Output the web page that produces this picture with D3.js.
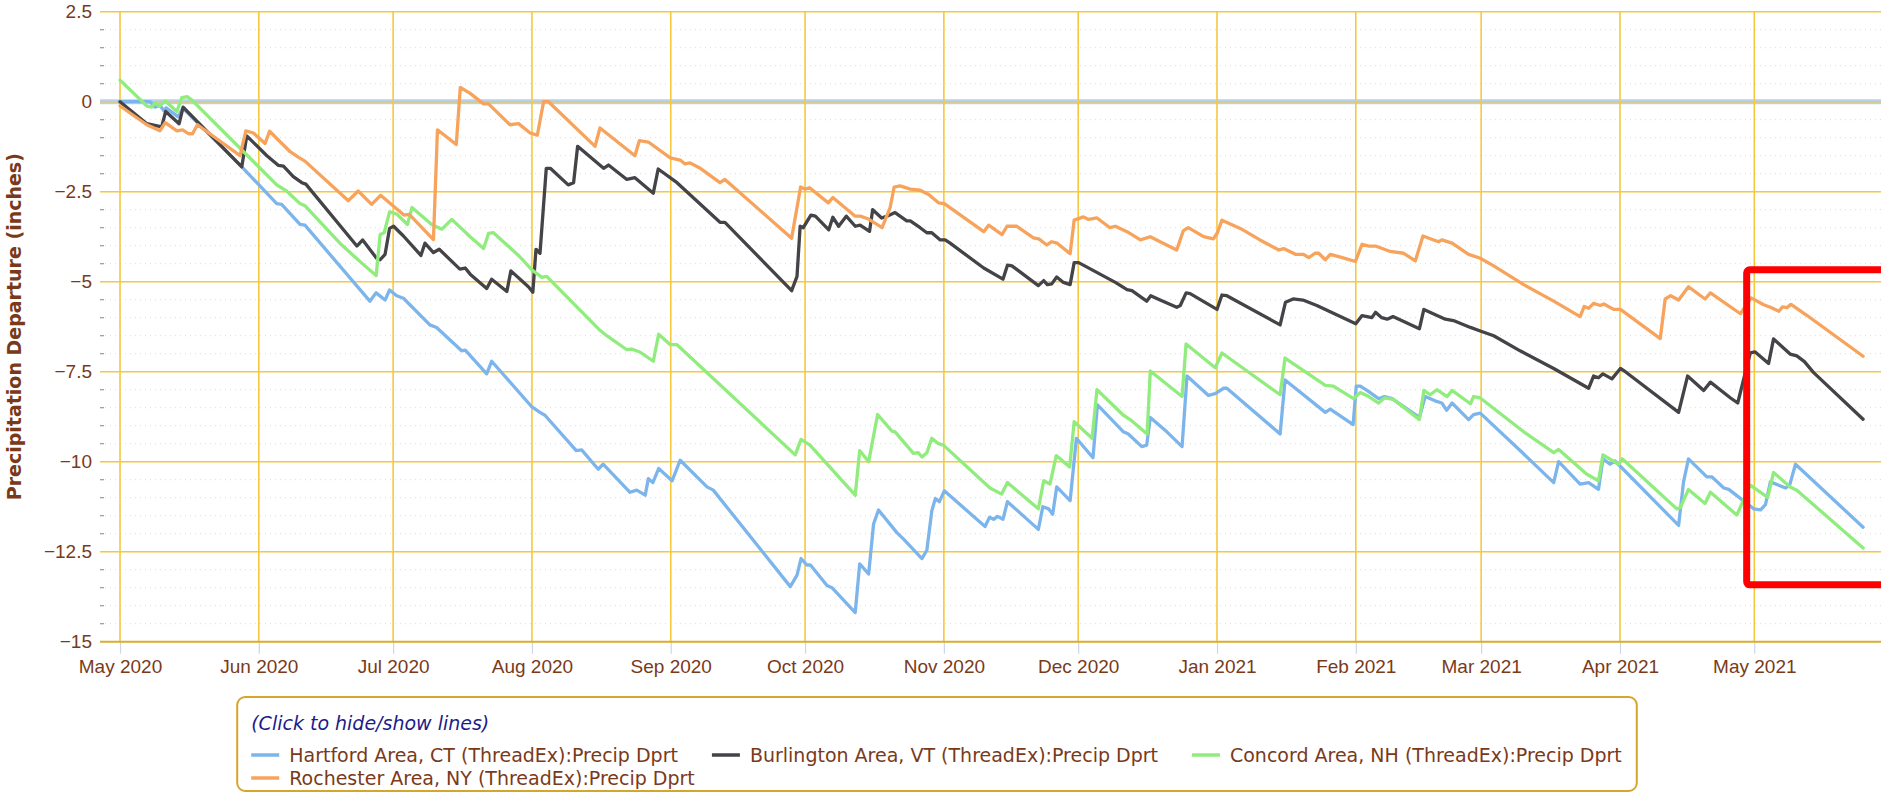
<!DOCTYPE html>
<html>
<head>
<meta charset="utf-8">
<script src="https://cdn.jsdelivr.net/npm/d3@7"></script>
<style>
  html, body { margin: 0; padding: 0; background: #fff; overflow: hidden; }
  svg { display: block; font-family: "DejaVu Sans", Verdana, sans-serif; }
</style>
</head>
<body>
<svg id="chart" width="1881" height="793"></svg>
<script>
'use strict';

// each point: [days since START, departure in inches]
const START = Date.UTC(2020, 4, 1);

const hartford = [[0,0],[6.7,0],[7.8,-0.15],[8.9,-0.10],[9.8,-0.25],[10.3,-0.17],[13,-0.42],[14,-0.18],[27.2,-1.81],[35,-2.83],[36.1,-2.85],[40.2,-3.41],[41.3,-3.43],[55.8,-5.54],[57.2,-5.31],[59.2,-5.51],[60.2,-5.23],[61.8,-5.39],[63.3,-5.46],[69.2,-6.20],[70.7,-6.27],[76.3,-6.92],[77.1,-6.90],[81.9,-7.56],[83,-7.21],[92,-8.48],[93.8,-8.63],[94.9,-8.71],[101.9,-9.69],[103.1,-9.67],[106.8,-10.21],[107.9,-10.07],[113.9,-10.85],[115.4,-10.79],[117.3,-10.93],[118,-10.47],[119,-10.58],[120.3,-10.19],[123.3,-10.53],[125.1,-9.96],[131.1,-10.70],[132.5,-10.79],[149.7,-13.47],[151.2,-13.15],[152.1,-12.69],[153.4,-12.87],[154.2,-12.87],[157.9,-13.44],[159,-13.50],[164.2,-14.19],[165.2,-12.84],[167.2,-13.12],[168.3,-11.73],[169.4,-11.34],[173.5,-11.97],[175,-12.15],[179.1,-12.69],[180.2,-12.46],[181.3,-11.37],[182.1,-11.02],[183,-11.11],[184.1,-10.81],[193.2,-11.80],[194.2,-11.54],[195.1,-11.60],[196,-11.52],[197.2,-11.60],[198.2,-11.11],[205.1,-11.88],[206.1,-11.25],[207.4,-11.31],[208.3,-11.46],[209.2,-10.70],[212.2,-11.08],[213.6,-9.35],[217.3,-9.89],[218.3,-8.42],[224.1,-9.17],[225.2,-9.23],[228.2,-9.58],[229.3,-9.54],[230.1,-8.77],[233.8,-9.17],[237.2,-9.58],[238.3,-7.62],[243.1,-8.16],[244.6,-8.11],[246.5,-7.96],[247.2,-7.96],[259.1,-9.23],[260.2,-7.73],[269.2,-8.63],[270.3,-8.54],[275.4,-8.97],[276.1,-7.90],[277,-7.90],[278.5,-8.02],[281.1,-8.25],[282.4,-8.19],[284.1,-8.25],[290.2,-8.77],[291.5,-8.19],[293.7,-8.31],[295.2,-8.37],[296.3,-8.57],[297.5,-8.37],[301.2,-8.83],[302.3,-8.69],[303.8,-8.65],[312.7,-9.69],[320.2,-10.58],[321.3,-10.00],[326.1,-10.62],[328,-10.58],[330.2,-10.77],[331.2,-9.92],[332.8,-10.07],[333.9,-9.98],[348.1,-11.77],[349.2,-10.56],[350.3,-9.92],[354.4,-10.42],[355.5,-10.42],[358.2,-10.73],[359.3,-10.77],[364.9,-11.31],[366.4,-11.34],[367.5,-11.19],[368.6,-10.56],[372,-10.73],[372.9,-10.65],[374.2,-10.07],[389.3,-11.82]];

const burlington = [[0,0],[6,-0.61],[9.3,-0.70],[10.2,-0.27],[13.2,-0.61],[14.1,-0.15],[27.2,-1.81],[28.3,-0.95],[32.8,-1.50],[35.4,-1.77],[36.5,-1.79],[38.7,-2.08],[40.6,-2.25],[41.5,-2.29],[52.9,-4.01],[54.2,-3.84],[57.3,-4.35],[58.1,-4.39],[59.2,-4.24],[60.2,-3.52],[61.1,-3.46],[63.3,-3.73],[67.2,-4.27],[68.1,-3.93],[70,-4.19],[71.3,-4.10],[75.9,-4.65],[77.1,-4.62],[78.2,-4.79],[81.9,-5.19],[83,-4.93],[86.4,-5.27],[87.3,-4.70],[91.2,-5.14],[92.2,-5.29],[92.9,-4.10],[93.8,-4.21],[95.2,-1.85],[96.1,-1.85],[100.1,-2.31],[101.3,-2.25],[102.2,-1.24],[108,-1.85],[109.1,-1.76],[113.2,-2.16],[115,-2.11],[119.1,-2.54],[120.2,-1.87],[124.4,-2.25],[134,-3.35],[135.1,-3.35],[150,-5.25],[151.2,-4.85],[151.9,-3.46],[152.6,-3.50],[154.3,-3.15],[155.3,-3.18],[158.3,-3.56],[159.2,-3.21],[160.5,-3.46],[162.2,-3.18],[164.2,-3.46],[165.3,-3.43],[167.4,-3.60],[168.1,-3.00],[170.1,-3.23],[171.3,-3.18],[173.1,-3.08],[175.7,-3.31],[176.5,-3.31],[178.7,-3.50],[180.2,-3.64],[181.3,-3.64],[183.2,-3.84],[184.3,-3.84],[185.4,-3.93],[192.9,-4.62],[197.2,-4.93],[198.2,-4.54],[199.2,-4.56],[205.1,-5.11],[206.3,-4.97],[207.1,-5.08],[208.1,-5.06],[209.2,-4.87],[210.7,-5.02],[212.2,-5.08],[213.1,-4.47],[214.1,-4.47],[222.3,-5.02],[224.9,-5.22],[226,-5.25],[229.3,-5.54],[230.2,-5.39],[232.3,-5.51],[236,-5.71],[236.8,-5.66],[238.1,-5.31],[239,-5.33],[245,-5.77],[246.1,-5.37],[247.2,-5.39],[259.1,-6.20],[260.3,-5.57],[262,-5.48],[264.2,-5.51],[267.3,-5.66],[276,-6.17],[277.4,-5.94],[278.5,-5.97],[279.6,-6.00],[280.4,-5.85],[281.8,-6.00],[283,-6.04],[284.3,-5.97],[290.2,-6.31],[291.2,-5.77],[296,-6.04],[297.8,-6.08],[301.6,-6.27],[303.8,-6.37],[306.8,-6.50],[312.7,-6.92],[320.2,-7.41],[328,-7.96],[329.1,-7.62],[330.2,-7.67],[331.2,-7.56],[333.2,-7.70],[335.1,-7.41],[336.2,-7.50],[348.1,-8.63],[350.1,-7.62],[353.7,-8.02],[355.2,-7.79],[359.7,-8.23],[361.3,-8.37],[364.1,-6.98],[365.2,-6.95],[368.2,-7.27],[369.3,-6.59],[373,-7.01],[374.5,-7.06],[376.2,-7.22],[378.2,-7.52],[389.3,-8.82]];

const concord = [[0,0.60],[6,-0.12],[7.1,-0.15],[7.8,-0.04],[8.8,-0.12],[10.1,0.02],[12.7,-0.27],[13.8,0.11],[15,0.14],[16,0.05],[35,-2.31],[37.2,-2.48],[40.2,-2.83],[41.3,-2.89],[49.1,-3.93],[52.1,-4.27],[54.7,-4.56],[57.2,-4.83],[58.1,-3.69],[59,-3.64],[60.2,-3.06],[61.8,-3.12],[64.2,-3.41],[65.2,-2.94],[69.6,-3.41],[71.9,-3.54],[74.1,-3.27],[78.2,-3.75],[81.2,-4.08],[82.3,-3.66],[83.4,-3.64],[89,-4.27],[92,-4.67],[94.2,-4.88],[95.3,-4.85],[107.2,-6.35],[108.7,-6.50],[113.2,-6.89],[114.3,-6.87],[116.2,-6.96],[119.1,-7.21],[120.3,-6.46],[122.9,-6.75],[124.4,-6.75],[150.8,-9.81],[152.1,-9.38],[154.1,-9.54],[164.2,-10.93],[165.2,-9.69],[167.2,-10.00],[169.2,-8.69],[172.4,-9.15],[173.1,-9.17],[177.2,-9.77],[178.3,-9.75],[179.1,-9.87],[180.2,-9.75],[181.3,-9.35],[182.8,-9.50],[183.9,-9.54],[194.3,-10.73],[196.9,-10.90],[198.2,-10.58],[205.1,-11.31],[206.3,-10.53],[207.7,-10.62],[209.1,-9.83],[212.1,-10.15],[213.1,-8.89],[217.1,-9.35],[218.2,-8.00],[224.1,-8.71],[225.6,-8.83],[229.4,-9.23],[230.1,-7.48],[237.2,-8.19],[238.1,-6.73],[244.6,-7.39],[246.1,-6.98],[259.1,-8.14],[260.2,-7.12],[269.2,-7.88],[271,-7.90],[275.5,-8.25],[277,-8.08],[278.9,-8.19],[281.1,-8.37],[282.4,-8.23],[284.4,-8.27],[290.2,-8.83],[291.2,-8.02],[292.6,-8.14],[294.1,-8.00],[296.4,-8.19],[297.5,-8.02],[301.6,-8.39],[302.3,-8.19],[303.8,-8.23],[313.5,-9.17],[320.2,-9.75],[321.3,-9.66],[327.6,-10.35],[330.2,-10.53],[331.2,-9.81],[334.7,-10.07],[335.5,-9.92],[347.7,-11.31],[348.5,-11.27],[350.3,-10.77],[354,-11.16],[355.2,-10.85],[361.1,-11.48],[364.1,-10.65],[368,-10.99],[369.3,-10.30],[373,-10.70],[374.5,-10.79],[389.3,-12.40]];

const rochester = [[0,-0.12],[6,-0.64],[8.9,-0.81],[10.1,-0.58],[12.7,-0.81],[14,-0.78],[15.3,-0.89],[16.2,-0.89],[17.3,-0.64],[26.8,-1.50],[28.1,-0.81],[29.8,-0.87],[32.4,-1.16],[33.4,-0.82],[38,-1.39],[39.8,-1.54],[41.3,-1.65],[51,-2.75],[53.2,-2.48],[56.2,-2.85],[58.2,-2.60],[63.4,-3.15],[64.6,-3.13],[70,-3.83],[70.9,-0.78],[75.1,-1.19],[76,0.40],[78.2,0.23],[81.2,-0.06],[82.3,-0.06],[87.1,-0.64],[89,-0.61],[91.6,-0.87],[93.2,-0.93],[94.6,0],[95.7,0],[106.1,-1.24],[107.2,-0.73],[115,-1.50],[116,-1.08],[118,-1.12],[122.9,-1.56],[125.1,-1.62],[126.2,-1.73],[127.3,-1.70],[129.6,-1.85],[134,-2.25],[135.1,-2.16],[150,-3.79],[152,-2.37],[153,-2.43],[154,-2.39],[158.2,-2.81],[159.2,-2.66],[164.2,-3.18],[165.3,-3.18],[167.2,-3.26],[170.2,-3.50],[172,-2.94],[172.9,-2.37],[174.2,-2.34],[176.5,-2.43],[178.7,-2.46],[180.6,-2.58],[182.8,-2.81],[184.1,-2.83],[192.9,-3.61],[194,-3.43],[197,-3.69],[198.1,-3.46],[200.3,-3.46],[204,-3.78],[205.2,-3.81],[207,-3.98],[208.1,-3.89],[209.3,-3.93],[212.2,-4.22],[213.1,-3.29],[215.2,-3.20],[216.3,-3.27],[218.2,-3.23],[221.1,-3.50],[222.3,-3.46],[224.9,-3.61],[227.9,-3.84],[230.1,-3.75],[232.3,-3.89],[236,-4.12],[237.5,-3.58],[238.6,-3.50],[242,-3.75],[244.2,-3.81],[245.1,-3.64],[246.1,-3.29],[250.2,-3.52],[254.6,-3.84],[258.8,-4.12],[259.9,-4.08],[262.5,-4.24],[264.3,-4.24],[265.5,-4.33],[266.9,-4.21],[267.7,-4.21],[269.2,-4.39],[270.3,-4.24],[273,-4.33],[275.9,-4.44],[277.4,-3.96],[278.9,-4.01],[280.4,-4.01],[283.7,-4.16],[286.7,-4.21],[289.3,-4.42],[291,-3.73],[293.4,-3.84],[294.5,-3.89],[295.2,-3.84],[297.5,-3.93],[301.2,-4.24],[303.8,-4.35],[306.8,-4.56],[313.5,-5.08],[320.2,-5.54],[326.1,-5.97],[327,-5.69],[328,-5.74],[329.1,-5.60],[330.6,-5.66],[331.4,-5.62],[333.6,-5.77],[335.1,-5.77],[344,-6.58],[345.1,-5.48],[346.3,-5.39],[348.1,-5.51],[350.3,-5.14],[354,-5.48],[355.2,-5.31],[361.9,-5.89],[364.3,-5.45],[367.1,-5.64],[368.6,-5.71],[370.5,-5.82],[371.3,-5.70],[372.3,-5.72],[373.2,-5.63],[376.8,-5.94],[389.3,-7.07]];

const SERIES = [
    { name: 'Hartford Area, CT (ThreadEx):Precip Dprt', color: '#7cb5ec', data: hartford },
    { name: 'Burlington Area, VT (ThreadEx):Precip Dprt', color: '#434348', data: burlington },
    { name: 'Concord Area, NH (ThreadEx):Precip Dprt', color: '#90ed7d', data: concord },
    { name: 'Rochester Area, NY (ThreadEx):Precip Dprt', color: '#f7a35c', data: rochester }
];

const Y_TICKS = [-15, -12.5, -10, -7.5, -5, -2.5, 0, 2.5];
const X_RANGE_DAYS = [-4.47, 393.3];
// highlight box: [start day, end day, top value, bottom value]
const HIGHLIGHT = [363.3, 420, -4.67, -13.42];

const PLOT = { left: 100, right: 1881, top: 11.7, bottom: 641.7 };
const TEXT = '#7a3a1a';
const GRID = '#f6c83e';
const FONT_SIZE = 19;

const day = (d) => new Date(START + d * 864e5);

const svg = d3.select('#chart');

const x = d3.scaleUtc()
    .domain(X_RANGE_DAYS.map(day))
    .range([PLOT.left, PLOT.right]);

const y = d3.scaleLinear()
    .domain([Y_TICKS[0], Y_TICKS[Y_TICKS.length - 1]])
    .range([PLOT.bottom, PLOT.top]);

svg.append('defs').append('clipPath').attr('id', 'plot-clip')
    .append('rect')
    .attr('x', PLOT.left).attr('y', PLOT.top - 4)
    .attr('width', PLOT.right - PLOT.left)
    .attr('height', PLOT.bottom - PLOT.top + 8);

// minor dotted grid every 0.5
let minor = d3.range(Y_TICKS[0], Y_TICKS[Y_TICKS.length - 1] + 0.01, 0.5)
    .filter((v) => !Y_TICKS.includes(v));

svg.append('g').selectAll('line').data(minor).join('line')
    .attr('x1', PLOT.left).attr('x2', PLOT.right)
    .attr('y1', (d) => y(d)).attr('y2', (d) => y(d))
    .attr('stroke', '#dcdcdc').attr('stroke-width', 1)
    .attr('stroke-dasharray', '1,4');

svg.append('g').selectAll('line').data(minor).join('line')
    .attr('x1', PLOT.left).attr('x2', PLOT.left + 4)
    .attr('y1', (d) => y(d)).attr('y2', (d) => y(d))
    .attr('stroke', '#999').attr('stroke-width', 1.2);

// zero plot line
svg.append('line')
    .attr('x1', PLOT.left).attr('x2', PLOT.right)
    .attr('y1', y(0)).attr('y2', y(0))
    .attr('stroke', '#b9d1ea').attr('stroke-width', 5);

let months = d3.utcMonth.range(day(0), day(X_RANGE_DAYS[1]));

// month grid
svg.append('g').selectAll('line').data(months).join('line')
    .attr('x1', (d) => x(d)).attr('x2', (d) => x(d))
    .attr('y1', PLOT.top).attr('y2', PLOT.bottom)
    .attr('stroke', GRID).attr('stroke-width', 1.6);

svg.append('g').selectAll('line').data(Y_TICKS.slice(1)).join('line')
    .attr('x1', PLOT.left).attr('x2', PLOT.right)
    .attr('y1', (d) => y(d)).attr('y2', (d) => y(d))
    .attr('stroke', GRID).attr('stroke-width', 1.6);

// x axis
let xAxis = svg.append('g')
    .attr('transform', `translate(0,${PLOT.bottom})`)
    .call(d3.axisBottom(x).tickValues(months).tickFormat(d3.utcFormat('%b %Y'))
        .tickSize(12).tickPadding(8));

xAxis.select('.domain').remove();
xAxis.selectAll('.tick line').attr('stroke', '#ccd6eb').attr('stroke-width', 1.2);
xAxis.selectAll('.tick text')
    .attr('fill', TEXT).attr('font-size', FONT_SIZE).attr('font-family', null)
    .attr('y', 18).attr('dy', '0.71em');

svg.append('line')
    .attr('x1', PLOT.left).attr('x2', PLOT.right)
    .attr('y1', PLOT.bottom).attr('y2', PLOT.bottom)
    .attr('stroke', '#d9ad2e').attr('stroke-width', 2);

// y axis
let yAxis = svg.append('g')
    .attr('transform', `translate(${PLOT.left},0)`)
    .call(d3.axisLeft(y).tickValues(Y_TICKS).tickFormat(d3.format('~g'))
        .tickSize(0).tickPadding(8));

yAxis.select('.domain').remove();
yAxis.selectAll('.tick text')
    .attr('fill', TEXT).attr('font-size', FONT_SIZE).attr('font-family', null);

svg.append('text')
    .attr('transform', `translate(14,${(PLOT.top + PLOT.bottom) / 2}) rotate(-90)`)
    .attr('text-anchor', 'middle')
    .attr('dy', '0.35em')
    .attr('fill', TEXT)
    .attr('font-size', 19)
    .attr('font-weight', 'bold')
    .text('Precipitation Departure (inches)');

// series
let line = d3.line()
    .x((d) => x(day(d[0])))
    .y((d) => y(d[1]));

svg.append('g').attr('clip-path', 'url(#plot-clip)')
    .selectAll('path').data(SERIES).join('path')
    .attr('d', (s) => line(s.data))
    .attr('fill', 'none')
    .attr('stroke', (s) => s.color)
    .attr('stroke-width', 3.3)
    .attr('stroke-linejoin', 'round')
    .attr('stroke-linecap', 'round');

// red highlight
svg.append('rect')
    .attr('x', x(day(HIGHLIGHT[0])))
    .attr('y', y(HIGHLIGHT[2]))
    .attr('width', x(day(HIGHLIGHT[1])) - x(day(HIGHLIGHT[0])))
    .attr('height', y(HIGHLIGHT[3]) - y(HIGHLIGHT[2]))
    .attr('rx', 3)
    .attr('fill', 'none')
    .attr('stroke', '#ff0000')
    .attr('stroke-width', 7);

// legend
const LEGEND = { top: 697, bottom: 791, center: 937, padX: 14, symbol: 28, gap: 10, itemGap: 34, perRow: 3 };

let legend = svg.append('g');
let box = legend.append('rect');

legend.append('text')
    .attr('x', 0).attr('y', 730)
    .attr('fill', '#1c1c8a')
    .attr('font-size', FONT_SIZE)
    .attr('font-style', 'italic')
    .text('(Click to hide/show lines)');

let rowWidth = 0;
let items = legend.selectAll('g.item').data(SERIES).join('g').attr('class', 'item');

items.append('line')
    .attr('x1', 0).attr('x2', LEGEND.symbol)
    .attr('y1', -7).attr('y2', -7)
    .attr('stroke', (s) => s.color)
    .attr('stroke-width', 3.5);

items.append('text')
    .attr('x', LEGEND.symbol + LEGEND.gap)
    .attr('fill', TEXT)
    .attr('font-size', FONT_SIZE)
    .text((s) => s.name);

let cursor = 0;
items.each(function(s, i) {
    let col = i % LEGEND.perRow;
    let row = Math.floor(i / LEGEND.perRow);
    if (col === 0) {
        cursor = 0;
    }
    let w = LEGEND.symbol + LEGEND.gap + this.querySelector('text').getComputedTextLength();
    d3.select(this).attr('transform', `translate(${cursor},${762 + row * 23})`);
    cursor += w;
    rowWidth = Math.max(rowWidth, cursor);
    cursor += LEGEND.itemGap;
});

let boxWidth = rowWidth + LEGEND.padX * 2 + 1;
let boxLeft = LEGEND.center - boxWidth / 2;

legend.attr('transform', `translate(${boxLeft + LEGEND.padX},0)`);
box.attr('x', -LEGEND.padX).attr('y', LEGEND.top)
    .attr('width', boxWidth).attr('height', LEGEND.bottom - LEGEND.top)
    .attr('rx', 8)
    .attr('fill', '#fff')
    .attr('stroke', '#d6a62c')
    .attr('stroke-width', 2);
</script>
</body>
</html>
